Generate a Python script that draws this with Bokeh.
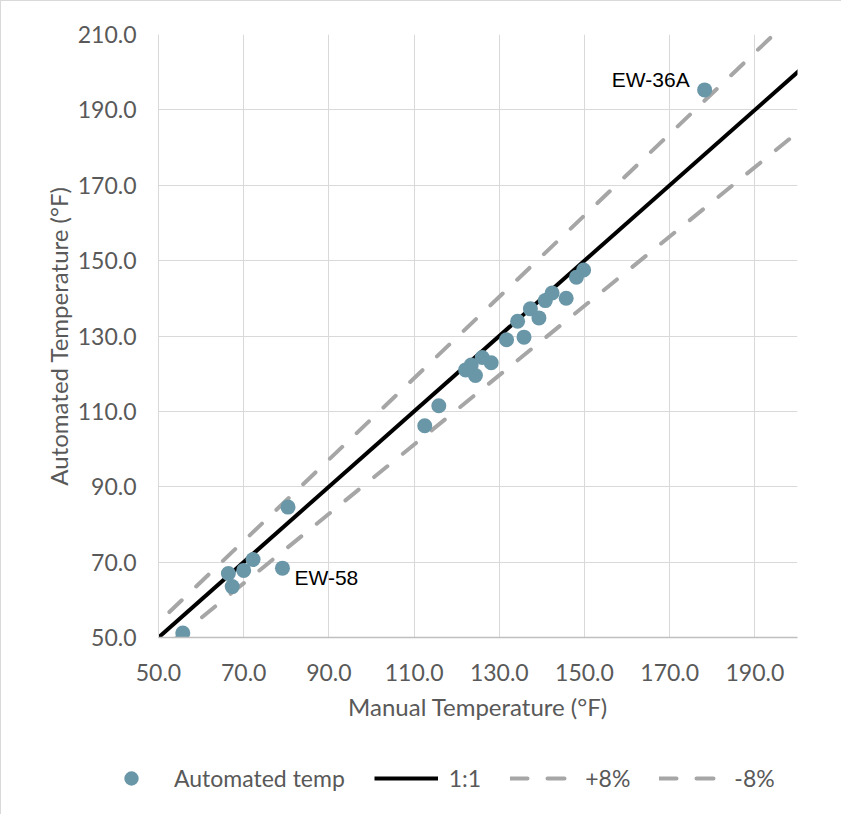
from bokeh.plotting import figure
from bokeh.layouts import column
from bokeh.models import (Range1d, FixedTicker, PrintfTickFormatter, Legend,
                          LegendItem, ColumnDataSource)
from bokeh.core.properties import value
from bokeh.embed import file_html
from bokeh.resources import INLINE

# ---------------- data ----------------
manual_temp = [55.7, 66.4, 67.3, 70.0, 72.2, 79.1, 80.4, 112.5, 115.8,
               122.1, 123.4, 124.4, 126.0, 128.1, 131.7, 135.8, 134.3,
               137.3, 139.3, 140.8, 142.4, 145.7, 148.1, 149.8, 178.2]
automated_temp = [51.2, 67.0, 63.5, 67.8, 70.7, 68.4, 84.6, 106.2, 111.5,
                  121.0, 122.3, 119.5, 124.3, 122.9, 129.0, 129.7, 133.9,
                  137.2, 134.8, 139.4, 141.4, 140.0, 145.6, 147.5, 195.3]

label_names = ["EW-36A", "EW-58"]
label_manual = [178.2, 79.1]
label_automated = [195.3, 68.4]

ref_x = [40.0, 220.0]
ratio_one = 1.00
ratio_plus = 1.08
ratio_minus = 0.92

x_ticks = [50, 70, 90, 110, 130, 150, 170, 190]
y_ticks = [50, 70, 90, 110, 130, 150, 170, 190, 210]

legend_labels = ["Automated temp", "1:1", "+8%", "-8%"]

# ---------------- styles ----------------
TICK_FONT = "Lato"
GREY_TXT = "#595959"
PT_COLOR = "#6a97a8"
BAND_COLOR = "#a6a6a6"
DASH = "17 20"

src = ColumnDataSource(dict(x=manual_temp, y=automated_temp))
y_one = [ratio_one * v for v in ref_x]
y_plus = [ratio_plus * v for v in ref_x]
y_minus = [ratio_minus * v for v in ref_x]

# ---------------- main figure ----------------
p = figure(width=840, height=740, output_backend="svg", toolbar_location=None,
           tools="", x_range=Range1d(50, 200), y_range=Range1d(50, 210),
           min_border_left=157, min_border_right=44, min_border_top=33,
           min_border_bottom=104, frame_align=False)
p.outline_line_color = None
p.background_fill_color = "white"
p.border_fill_color = "white"

for ax in (p.xaxis[0], p.yaxis[0]):
    ax.major_tick_line_color = None
    ax.minor_tick_line_color = None
    ax.major_label_text_font = TICK_FONT
    ax.major_label_text_font_size = "23px"
    ax.major_label_text_color = GREY_TXT
    ax.axis_label_text_font = TICK_FONT
    ax.axis_label_text_font_size = "24px"
    ax.axis_label_text_font_style = "normal"
    ax.axis_label_text_color = GREY_TXT
    ax.formatter = PrintfTickFormatter(format="%.1f")

p.xaxis.ticker = FixedTicker(ticks=x_ticks)
p.yaxis.ticker = FixedTicker(ticks=y_ticks)
p.xaxis.axis_label = "Manual Temperature (°F)"
p.yaxis.axis_label = "Automated Temperature (°F)"
p.xaxis.axis_line_color = "#bfbfbf"
p.xaxis.axis_line_width = 1.5
p.yaxis.axis_line_color = "#d9d9d9"
p.xaxis.major_label_standoff = 20
p.yaxis.major_label_standoff = 16
p.xaxis.axis_label_standoff = 8
p.yaxis.axis_label_standoff = 2

p.grid.grid_line_color = "#d9d9d9"
p.grid.grid_line_width = 1

# reference lines
p.line(ref_x, y_one, line_color="black", line_width=4)
p.line(ref_x, y_plus, line_color=BAND_COLOR, line_width=4, line_dash=DASH,
       line_cap="round")
p.line(ref_x, y_minus, line_color=BAND_COLOR, line_width=4, line_dash=DASH,
       line_cap="round")

# points
p.scatter("x", "y", source=src, size=15, fill_color=PT_COLOR, line_color=None)

# point labels
p.text(x=label_manual[:1], y=label_automated[:1], text=label_names[:1],
       text_align="right", text_baseline="middle", x_offset=-15, y_offset=-10,
       text_font=value("Liberation Sans"), text_font_size="21px",
       text_color="black")
p.text(x=label_manual[1:], y=label_automated[1:], text=label_names[1:],
       text_align="left", text_baseline="middle", x_offset=12, y_offset=9,
       text_font=value("Liberation Sans"), text_font_size="21px",
       text_color="black")

# ---------------- legend strip ----------------
# Same series drawn on a strip whose ranges keep them out of view; only the
# legend of this strip is visible.
lf = figure(width=840, height=73, output_backend="svg", toolbar_location=None,
            tools="", x_axis_type=None, y_axis_type=None, min_border=0,
            x_range=Range1d(0, 1), y_range=Range1d(0, 1), frame_align=False)
lf.outline_line_color = None
lf.grid.visible = False
lf.border_fill_color = "white"
lf.background_fill_color = "white"

lg_pt = lf.scatter("x", "y", source=src, size=15, fill_color=PT_COLOR,
                   line_color=None)
lg_one = lf.line(ref_x, y_one, line_color="black", line_width=4)
lg_plus = lf.line(ref_x, y_plus, line_color=BAND_COLOR, line_width=4,
                  line_dash=DASH, line_cap="round")
lg_minus = lf.line(ref_x, y_minus, line_color=BAND_COLOR, line_width=4,
                   line_dash=DASH, line_cap="round")

legend = Legend(items=[LegendItem(label=legend_labels[0], renderers=[lg_pt]),
                       LegendItem(label=legend_labels[1], renderers=[lg_one]),
                       LegendItem(label=legend_labels[2], renderers=[lg_plus]),
                       LegendItem(label=legend_labels[3], renderers=[lg_minus])],
                orientation="horizontal", location=(98, 18),
                glyph_width=64, glyph_height=36, label_standoff=11,
                spacing=29, padding=0, margin=0, border_line_color=None,
                background_fill_alpha=0, label_text_font=TICK_FONT,
                label_text_font_size="23px", label_text_color=GREY_TXT)
lf.add_layout(legend)

layout = column(p, lf, spacing=0)
layout.styles = {"border-left": "1px solid #d9d9d9",
                 "border-top": "1px solid #d9d9d9"}

open("out.html", "w").write(file_html(layout, INLINE))
